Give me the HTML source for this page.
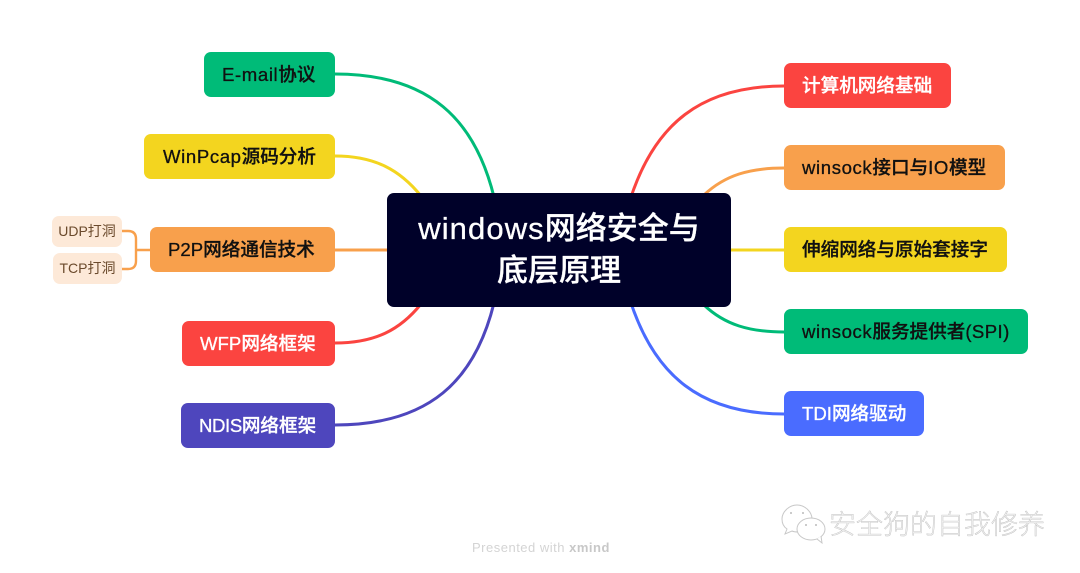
<!DOCTYPE html>
<html><head><meta charset="utf-8">
<style>
html,body{margin:0;padding:0;background:#fff}
#c{position:relative;width:1080px;height:573px;overflow:hidden;background:#fff;font-family:"Liberation Sans","Noto Sans CJK SC",sans-serif}
.n{position:absolute;border-radius:7px;font-size:18.6px;line-height:45px;height:45px;color:#111;white-space:nowrap;box-sizing:border-box;font-weight:500;-webkit-text-stroke:.3px #111}
.w{color:#fff;-webkit-text-stroke:.3px #fff}
.n i{font-style:normal;letter-spacing:.6px}
.n u{text-decoration:none;letter-spacing:0}
.s{position:absolute;background:#fde9d8;border-radius:7px;height:31px;line-height:31px;font-size:14px;color:#6b4a2c;text-align:center;white-space:nowrap}
svg{position:absolute;left:0;top:0}
</style></head><body><div id="c">
<svg width="1080" height="573" fill="none" stroke-width="3">
<path d="M335 74C430 74 475 120 494 197" stroke="#00bb78"/>
<path d="M335 156C375 156 400 170 421 196" stroke="#f3d51f"/>
<path d="M335 250H390" stroke="#f8a04c"/>
<path d="M335 343C375 343 400 330 421 304" stroke="#fb4440"/>
<path d="M335 425C430 425 475 380 494 303" stroke="#4e46bd"/>
<path d="M784 86C700 86 655 125 631 197" stroke="#fb4440"/>
<path d="M784 168C750 168 725 175 704 195" stroke="#f8a04c"/>
<path d="M784 250H730" stroke="#f3d51f"/>
<path d="M784 332C750 332 725 325 704 305" stroke="#00bb78"/>
<path d="M784 414C700 414 655 375 631 303" stroke="#4a6cff"/>
<path d="M150 250H136M122 231H128Q136 231 136 239V261Q136 269 128 269H122" stroke="#f8a04c" stroke-width="2.4"/>
</svg>
<div class="n" style="left:204px;top:52px;width:131px;background:#00bb78;padding-left:18px"><i>E-mail</i>协议</div>
<div class="n" style="left:144px;top:134px;width:191px;background:#f3d51f;padding-left:19px"><i>WinPcap</i>源码分析</div>
<div class="n" style="left:150px;top:227px;width:185px;background:#f8a04c;padding-left:18px"><u>P2P</u>网络通信技术</div>
<div class="n w" style="left:182px;top:321px;width:153px;background:#fb4440;padding-left:18px"><u>WFP</u>网络框架</div>
<div class="n w" style="left:181px;top:403px;width:154px;background:#4e46bd;padding-left:18px"><u style="letter-spacing:-.4px">NDIS</u>网络框架</div>
<div class="n w" style="left:784px;top:63px;width:167px;background:#fb4440;padding-left:18px">计算机网络基础</div>
<div class="n" style="left:784px;top:145px;width:221px;background:#f8a04c;padding-left:18px"><i>winsock</i>接口与<i>IO</i>模型</div>
<div class="n" style="left:784px;top:227px;width:223px;background:#f3d51f;padding-left:18px">伸缩网络与原始套接字</div>
<div class="n" style="left:784px;top:309px;width:244px;background:#00bb78;padding-left:18px"><i>winsock</i>服务提供者<u style="letter-spacing:.4px">(SPI)</u></div>
<div class="n w" style="left:784px;top:391px;width:140px;background:#4a6cff;padding-left:18px"><u>TDI</u>网络驱动</div>
<div class="s" style="left:52px;top:216px;width:70px">UDP打洞</div>
<div class="s" style="left:53px;top:253px;width:69px">TCP打洞</div>
<div style="position:absolute;left:387px;top:193px;width:344px;height:114px;background:#000129;border-radius:7px;color:#fff;font-size:31px;line-height:42px;text-align:center;padding-top:15px;box-sizing:border-box;font-weight:500;-webkit-text-stroke:.3px #fff"><span style="letter-spacing:1.1px">windows</span>网络安全与<br>底层原理</div>
<svg width="1080" height="573" fill="#fff" stroke="#c8c8c8" stroke-width="1">
<path d="M797 505C789 505 782 512 782 519C782 524 784 527 787 529L785 534L792 531C794 532 795 532 798 532C806 532 812 526 812 519C812 512 805 505 797 505Z"/>
<ellipse cx="811" cy="529" rx="14" ry="11"/>
<path d="M817 539L822 543L821 536" />
<g fill="#bbb" stroke="none"><circle cx="791" cy="513" r="1"/><circle cx="803" cy="513" r="1"/><circle cx="806" cy="525" r="1"/><circle cx="816" cy="525" r="1"/></g>
</svg>
<div style="position:absolute;left:829px;top:509px;font-size:27px;line-height:32px;color:#f0f0f0;white-space:nowrap;-webkit-text-stroke:.35px #b8b8b8;font-weight:300">安全狗的自我修养</div>
<div style="position:absolute;left:472px;top:540px;font-size:13px;line-height:16px;letter-spacing:.5px;color:#d4d4d4;white-space:nowrap">Presented with <b style="color:#c8c8c8">xmind</b></div>
</div></body></html>
